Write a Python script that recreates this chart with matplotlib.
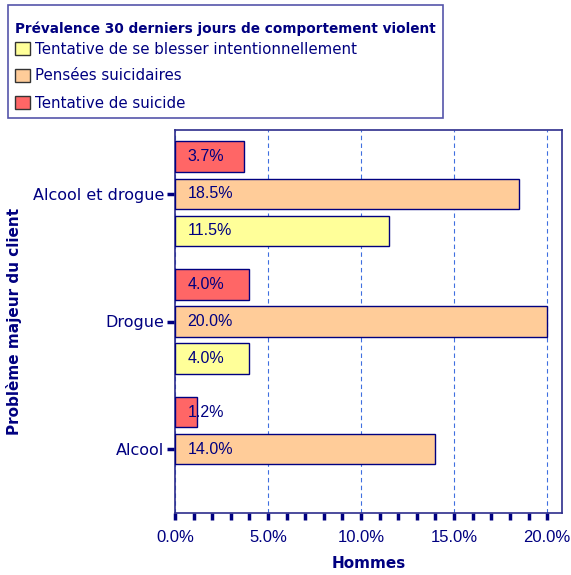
import matplotlib.pyplot as plt
import matplotlib
import numpy as np
from matplotlib.patches import Patch, Rectangle
from matplotlib.ticker import MultipleLocator, FuncFormatter

# data
categories = ['Alcool', 'Drogue', 'Alcool et drogue']
series = ['Tentative de se blesser intentionnellement',
          'Pensées suicidaires',
          'Tentative de suicide']
blesser = [0.0, 4.0, 11.5]
pensees = [14.0, 20.0, 18.5]
suicide = [1.2, 4.0, 3.7]

navy = '#000080'
colors = ['#FFFF99', '#FFCC99', '#FF6666']
comic = ['DejaVu Sans']
num_font = ['Liberation Sans', 'DejaVu Sans']

W, H = 571, 575
fig = plt.figure(figsize=(W / 100, H / 100), dpi=100)
ax = fig.add_axes([175 / W, 1 - 513 / H, (562 - 175) / W, (513 - 130) / H])

y = np.arange(len(categories))
offsets = [-0.29, 0.0, 0.29]
h = 0.24

for vals, off, col in zip([blesser, pensees, suicide], offsets, colors):
    for yi, v in zip(y, vals):
        if v <= 0:
            continue
        ax.barh(yi + off, v, height=h, color=col, edgecolor=navy, linewidth=1.0, zorder=3)
        ax.annotate(f'{v:.1f}%', xy=(0, yi + off), xytext=(9, 0), textcoords='offset points',
                    va='center', ha='left', color=navy, fontsize=11.5, family=num_font, zorder=4)

ax.set_xlim(0, 20.8)
ax.set_ylim(-0.5, 2.5)
ax.xaxis.set_major_locator(MultipleLocator(5))
ax.xaxis.set_minor_locator(MultipleLocator(1))
ax.xaxis.set_major_formatter(FuncFormatter(lambda v, p: f'{v:.1f}%'))
ax.set_yticks(y)
ax.set_yticklabels(categories, family=comic, fontsize=11.5, color=navy)
for lab in ax.get_xticklabels():
    lab.set_family(num_font)
ax.tick_params(axis='x', which='both', direction='out', length=5, width=2.5, color=navy,
               labelcolor=navy, labelsize=12, pad=7)
ax.tick_params(axis='y', direction='out', length=6, width=2.5, color=navy, pad=2)

ax.grid(axis='x', which='major', color='#3F6FE0', linestyle=(0, (4, 3)), linewidth=0.8, zorder=0)
for s in ax.spines.values():
    s.set_color('#2E2E8C')
    s.set_linewidth(1.2)

ax.set_xlabel('Hommes', family=comic, fontweight='bold', fontsize=11, color=navy, labelpad=8)
ax.set_ylabel('Problème majeur du client', family=comic, fontweight='bold', fontsize=11,
              color=navy, labelpad=0)
ax.yaxis.set_label_coords(-0.395, 0.5)

# legend box, title and entries
fig.patches.append(Rectangle((8 / W, 1 - 118 / H), (443 - 8) / W, (118 - 5) / H,
                             transform=fig.transFigure, facecolor='white',
                             edgecolor='#5555AA', linewidth=1.2))
fig.text(15 / W, 1 - 28.5 / H, 'Prévalence 30 derniers jours de comportement violent',
         family=comic, fontweight='bold', fontsize=9.8, color=navy, va='center', ha='left')
handles = [Patch(facecolor=c, edgecolor='#333333', linewidth=1.0) for c in colors]
leg = fig.legend(handles, series, loc='upper left', bbox_to_anchor=(15 / W, 1 - 41.5 / H),
                 borderaxespad=0, frameon=False,
                 prop={'family': comic, 'size': 10.8}, handlelength=1.0, handleheight=1.0,
                 handletextpad=0.35, labelspacing=0.8, borderpad=0)
for t in leg.get_texts():
    t.set_color(navy)

fig.savefig('out.png', dpi=100)
